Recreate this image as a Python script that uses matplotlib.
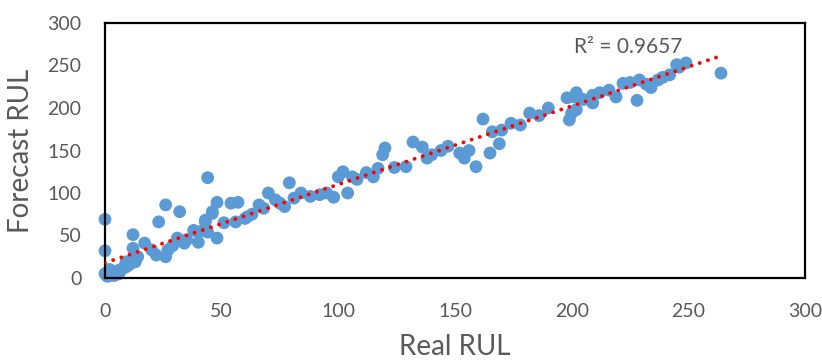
import numpy as np
import matplotlib.pyplot as plt

plt.rcParams['font.family'] = ['Lato', 'DejaVu Sans']

# Real RUL vs forecast RUL
real_rul = [0, 1, 2, 3, 4, 5, 6, 7, 8, 9, 10, 11, 13, 4, 2,
            0, 0, 1, 9, 12, 12, 17, 22, 26, 23, 26, 32, 27, 31, 34,
            38, 42, 43, 46, 44, 44, 48, 54, 57, 46, 43, 40, 40, 48, 51,
            56, 61, 66, 70, 73, 77, 79, 81, 84, 92, 95, 98, 104, 100, 102,
            106, 112, 115, 117, 120, 119, 129, 132, 136, 138, 147, 152, 154, 159, 162,
            165, 166, 169, 170, 174, 178, 182, 186, 198, 201, 199, 200, 202, 202, 209,
            209, 216, 219, 222, 229, 228, 234, 239, 242, 245, 249, 264,
            12, 14, 20, 29, 35, 60, 63, 68, 75, 88, 108, 124, 140, 144, 156,
            190, 205, 212, 225, 232, 237, 246, 1, 3, 6]
forecast_rul = [5, 4, 6, 5, 7, 8, 9, 10, 12, 13, 15, 17, 19, 3, 10,
                69, 32, 6, 19, 51, 35, 41, 27, 25, 66, 86, 78, 33, 47, 41,
                56, 56, 66, 76, 54, 118, 89, 88, 89, 78, 68, 54, 42, 47, 65,
                66, 72, 86, 100, 92, 84, 112, 94, 100, 98, 100, 95, 100, 119, 125,
                119, 124, 119, 129, 153, 145, 131, 160, 154, 141, 155, 147, 141, 131, 187,
                147, 172, 158, 174, 182, 180, 194, 191, 212, 213, 186, 194, 218, 198, 206,
                215, 221, 213, 229, 233, 209, 224, 236, 239, 251, 253, 241,
                22, 25, 33, 38, 45, 70, 75, 82, 88, 96, 116, 130, 145, 150, 150,
                200, 210, 218, 230, 228, 233, 248, 2, 3, 5]

x = np.array(real_rul, dtype=float)
y = np.array(forecast_rul, dtype=float)

fig = plt.figure(figsize=(8.22, 3.61), dpi=100)
ax = fig.add_axes([105 / 822, 83 / 361, 700 / 822, 255 / 361])

ax.scatter(x, y, s=85, color='#5B9BD5', edgecolors='none', zorder=2, clip_on=False)

# linear trendline over the data range
k, b = np.polyfit(x, y, 1)
xs = np.array([x.min(), x.max()])
ax.plot(xs, k * xs + b, color='#FF0000', lw=2.8, linestyle=(0, (0.01, 2.2)),
        dash_capstyle='round', zorder=3)

ax.text(201, 272, 'R² = 0.9657', fontsize=15, color='#595959', va='center', ha='left')

ax.set_xlim(0, 300)
ax.set_ylim(0, 300)
ax.set_xticks(np.arange(0, 301, 50))
ax.set_yticks(np.arange(0, 301, 50))
ax.tick_params(length=0, labelsize=14, labelcolor='#595959')
ax.tick_params(axis='x', pad=18)
ax.tick_params(axis='y', pad=17)

for sp in ax.spines.values():
    sp.set_color('black')
    sp.set_linewidth(1.6)

ax.set_xlabel('Real RUL', fontsize=20, color='#595959', va='center')
ax.set_ylabel('Forecast RUL', fontsize=20, color='#595959', va='center')
ax.xaxis.set_label_coords(0.5, -0.27)
ax.yaxis.set_label_coords(-0.12, 0.5)

fig.savefig('out.png', dpi=100)
